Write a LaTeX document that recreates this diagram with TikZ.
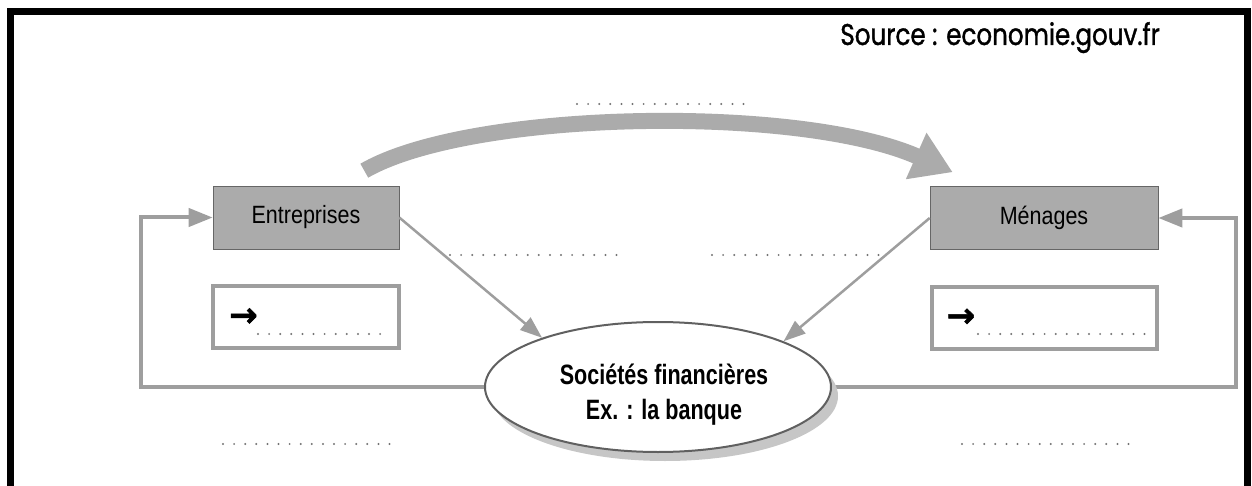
\documentclass[tikz,border=0pt]{standalone}
\usepackage{fontspec}
\usepackage{tikz}
\usetikzlibrary{positioning, shapes.geometric, arrows.meta, shadows, backgrounds}
\newfontfamily\condfont[FakeStretch=0.86]{Liberation Sans}
\newfontfamily\narrowfont[FakeStretch=0.77]{Liberation Sans}
\newfontfamily\srcfont[FakeStretch=0.82, FakeBold=1.2]{Poppins}
\newfontfamily\arrfont[FakeBold=1.5]{DejaVu Sans}
\definecolor{boxgray}{gray}{0.67}
\definecolor{linegray}{gray}{0.62}
\definecolor{dotgray}{gray}{0.45}

\begin{document}
\begin{tikzpicture}[x=1pt, y=-1pt,
      actor/.style={rectangle, fill=boxgray, draw=gray!80!black, line width=0.6pt, minimum width=#1, minimum height=63pt, inner sep=0pt, font=\condfont\fontsize{25}{28}\selectfont},
      answer/.style={rectangle, fill=white, draw=linegray, line width=4pt, minimum width=#1, minimum height=62pt, inner sep=0pt},
      pointer/.style={anchor=west, inner sep=0pt, font=\arrfont\bfseries\fontsize{34}{34}\selectfont},
      flow/.style={linegray, line width=4pt, -{Triangle[length=24pt, width=18pt]}},
      loan/.style={linegray, line width=2.5pt, -{Triangle[length=22pt, width=16pt]}},
      income/.style={boxgray, line width=16pt, -{Triangle[length=40pt, width=48pt]}},
      blank/.style={dotgray, line width=2.2pt, line cap=round, dash pattern=on 0pt off 11.1pt}]
   \useasboundingbox (0,0) rectangle (1252,486);
   \draw[line width=7pt] (10.5,490) -- (10.5,11.5) -- (1247.5,11.5) -- (1247.5,490);
   \node[anchor=base east, inner sep=0pt, font=\srcfont\fontsize{30}{32}\selectfont] (src) at (1160,45) {Source : economie.gouv.fr};

   \node[actor=186pt] (ent) at (306,217.5) {Entreprises};
   \node[actor=228pt] (men) at (1044,218) {Ménages};
   \node[answer=186pt, below=35pt of ent] (entbox) {};
   \node[answer=225pt, below=35pt of men] (menbox) {};
   \node[pointer, right=18pt of entbox.west] (entarr) {→};
   \node[pointer, right=17pt of menbox.west] (menarr) {→};
   \node[ellipse, draw=gray!75!black, line width=2pt, fill=white, minimum width=346pt, minimum height=130pt, inner sep=0pt,
         drop shadow={shadow xshift=7pt, shadow yshift=-9pt, fill=gray!45, opacity=1}] (bank) at (658,387) {};
   \node[align=center, inner sep=0pt, font=\narrowfont\bfseries\fontsize{28}{35}\selectfont] (banktext) at (664,395) {Sociétés financières\\Ex. : la banque};

   \begin{scope}[on background layer]
      \draw[flow] (bank.west) -| ([xshift=-72pt]ent.west) -- (ent.west);
      \draw[flow] (bank.east) -| ([xshift=78pt]men.east) -- (men.east);
   \end{scope}
   \draw[loan] (ent.east) -- (bank.157);
   \draw[loan] (men.west) -- (bank.20);
   \draw[income] ([xshift=-35pt,yshift=15pt]ent.north east) .. controls +(106,-61) and +(-153,-68) .. ([xshift=23pt,yshift=14pt]men.north west);

   \draw[blank] (577,104) -- (744,104);
   \draw[blank] (450,255) -- (619,255);
   \draw[blank] (712,255) -- (884,255);
   \draw[blank] (258,334) -- (388,334);
   \draw[blank] (978,334) -- (1146,334);
   \draw[blank] (223,444) -- (390,444);
   \draw[blank] (962,444) -- (1129,444);
\end{tikzpicture}
\end{document}
